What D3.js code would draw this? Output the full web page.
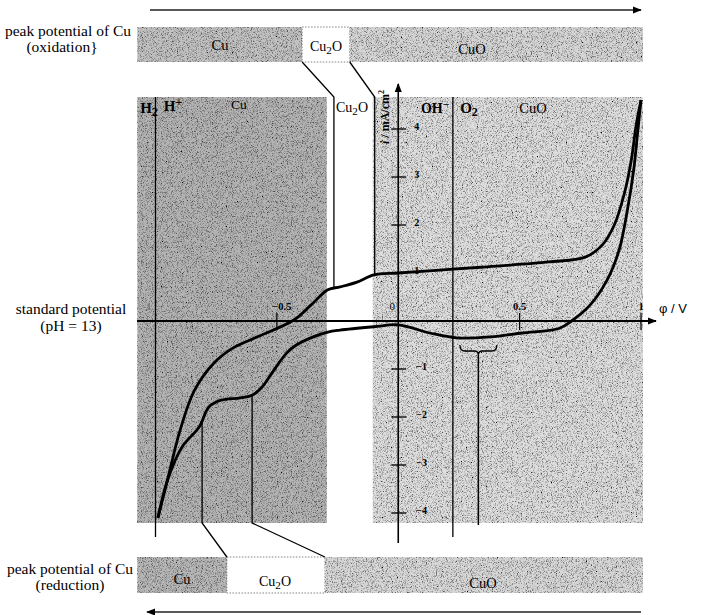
<!DOCTYPE html>
<html>
<head>
<meta charset="utf-8">
<script src="https://cdn.jsdelivr.net/npm/d3@7"></script>
<style>
  body { margin: 0; background: #fff; }
  svg { display: block; font-family: "Liberation Serif", "Times New Roman", serif; }
</style>
</head>
<body>
<div id="chart"></div>
<script>
// cyclic voltammogram of Cu, pH 13
const anodicScan = [
  [-0.99, -4.1], [-0.95, -3.3], [-0.9, -2.3], [-0.84, -1.45], [-0.76, -0.88],
  [-0.68, -0.56], [-0.58, -0.33], [-0.43, 0.02], [-0.36, 0.33], [-0.29, 0.65],
  [-0.24, 0.71], [-0.17, 0.81], [-0.1, 0.96], [0.0, 1.0], [0.17, 1.06],
  [0.34, 1.12], [0.62, 1.23], [0.77, 1.33], [0.84, 1.58], [0.89, 2.0],
  [0.93, 2.63], [0.96, 3.35], [0.98, 4.08], [1.0, 4.6]
];
const cathodicScan = [
  [1.0, 4.6], [0.986, 3.92], [0.97, 3.15], [0.944, 2.31], [0.91, 1.48],
  [0.86, 0.85], [0.79, 0.33], [0.714, 0.0], [0.665, -0.15], [0.51, -0.25],
  [0.38, -0.33], [0.24, -0.35], [0.13, -0.25], [0.0, -0.08], [-0.1, -0.12],
  [-0.24, -0.19], [-0.29, -0.23], [-0.35, -0.33], [-0.42, -0.5], [-0.46, -0.67],
  [-0.52, -1.08], [-0.56, -1.37], [-0.6, -1.54], [-0.65, -1.6], [-0.73, -1.65],
  [-0.78, -1.79], [-0.82, -2.21], [-0.89, -2.62], [-0.95, -3.31], [-0.99, -4.1]
];

// regions of the main plot (V)
const plotRegions = [
  { name: "Cu", from: -1.075, to: -0.294, fill: "#b4b4b4" },
  { name: "Cu2O", from: -0.294, to: -0.105, fill: "#ffffff" },
  { name: "CuO", from: -0.105, to: 1.008, fill: "#dedede" }
];
const oxidationBar = [
  { name: "Cu", from: -1.075, to: -0.396, fill: "#c2c2c2" },
  { name: "Cu2O", from: -0.396, to: -0.2, fill: "#ffffff" },
  { name: "CuO", from: -0.2, to: 1.008, fill: "#d6d6d6" }
];
const reductionBar = [
  { name: "Cu", from: -1.075, to: -0.706, fill: "#b8b8b8" },
  { name: "Cu2O", from: -0.706, to: -0.302, fill: "#ffffff" },
  { name: "CuO", from: -0.302, to: 1.008, fill: "#d8d8d8" }
];
// peak potentials: where the bar boundary is, where the vertical marker sits
const oxidationPeaks = [[-0.396, -0.265], [-0.2, -0.097]];
const reductionPeaks = [[-0.706, -0.808], [-0.302, -0.602]];
const xTicks = [-1, -0.5, 0.5, 1];
const xTickLabels = ["-1", "\u22120.5", "0.5", "1"];
const yTicks = [4, 3, 2, 1, -1, -2, -3, -4];
const equilibria = [-1.0, 0.225];   // H2/H+ and O2/OH- lines
const bracket = [0.254, 0.406];

let WIDTH = 701, HEIGHT = 615;

let svg = d3.select("#chart").append("svg")
  .attr("width", WIDTH)
  .attr("height", HEIGHT);

let x = d3.scaleLinear().domain([-1, 1]).range([155.5, 641]);
let y = d3.scaleLinear().domain([-4, 4]).range([513, 129]);

const plotTop = 97, plotBottom = 523;
const topBar = [27, 62], botBar = [557, 593];

let defs = svg.append("defs");
defs.append("marker").attr("id", "arr")
  .attr("viewBox", "0 0 10 10").attr("refX", 9).attr("refY", 5)
  .attr("markerWidth", 9).attr("markerHeight", 9).attr("orient", "auto-start-reverse")
  .attr("markerUnits", "userSpaceOnUse")
  .append("path").attr("d", "M0,1 L10,5 L0,9 Z").attr("fill", "#000");

// halftone-ish grain: dark specks over the grey fill
let f = defs.append("filter").attr("id", "grain").attr("x", 0).attr("y", 0).attr("width", 1).attr("height", 1);
f.append("feTurbulence").attr("type", "fractalNoise").attr("baseFrequency", 1.2).attr("numOctaves", 1).attr("seed", 3).attr("result", "n");
f.append("feColorMatrix").attr("in", "n").attr("type", "matrix")
  .attr("values", "0 0 0 0 0  0 0 0 0 0  0 0 0 0 0  -3 0 0 0 1.6").attr("result", "a");
f.append("feComposite").attr("in", "a").attr("in2", "SourceGraphic").attr("operator", "in").attr("result", "d");
f.append("feMerge").call(m => {
  m.append("feMergeNode").attr("in", "SourceGraphic");
  m.append("feMergeNode").attr("in", "d");
});

function drawBar(parts, y0, y1) {
  let g = svg.append("g");
  g.selectAll("rect").data(parts).enter().append("rect")
    .attr("x", d => x(d.from)).attr("width", d => x(d.to) - x(d.from))
    .attr("y", y0).attr("height", y1 - y0)
    .attr("fill", d => d.fill)
    .attr("filter", d => d.fill == "#ffffff" ? null : "url(#grain)")
    .attr("stroke", d => d.fill == "#ffffff" ? "#666" : "none")
    .attr("stroke-width", 0.8)
    .attr("stroke-dasharray", "1.5,1.5");
  return g;
}

// main plot regions
svg.append("g").selectAll("rect").data(plotRegions).enter().append("rect")
  .attr("x", d => x(d.from)).attr("width", d => x(d.to) - x(d.from))
  .attr("y", plotTop).attr("height", plotBottom - plotTop)
  .attr("fill", d => d.fill)
  .attr("filter", d => d.fill == "#ffffff" ? null : "url(#grain)");

drawBar(oxidationBar, topBar[0], topBar[1]);
drawBar(reductionBar, botBar[0], botBar[1]);

// direction arrows
svg.append("line").attr("x1", 150).attr("x2", 641).attr("y1", 10).attr("y2", 10)
  .attr("stroke", "#222").attr("stroke-width", 1.6).attr("marker-end", "url(#arr)");
svg.append("line").attr("x1", 641).attr("x2", 147).attr("y1", 612).attr("y2", 612)
  .attr("stroke", "#222").attr("stroke-width", 1.6).attr("marker-end", "url(#arr)");

// equilibrium lines
svg.append("g").selectAll("line").data(equilibria).enter().append("line")
  .attr("x1", d => x(d)).attr("x2", d => x(d))
  .attr("y1", plotTop).attr("y2", 537)
  .attr("stroke", "#000").attr("stroke-width", 1.3);

// axes
svg.append("line").attr("x1", 137).attr("x2", 656).attr("y1", y(0)).attr("y2", y(0))
  .attr("stroke", "#000").attr("stroke-width", 2).attr("marker-end", "url(#arr)");
svg.append("line").attr("x1", x(0)).attr("x2", x(0)).attr("y1", 543).attr("y2", 84)
  .attr("stroke", "#000").attr("stroke-width", 1.6).attr("marker-end", "url(#arr)");

svg.append("g").selectAll("line").data(xTicks).enter().append("line")
  .attr("x1", d => x(d)).attr("x2", d => x(d))
  .attr("y1", y(0) - 8).attr("y2", y(0) + 9)
  .attr("stroke", "#000").attr("stroke-width", 1.2);
svg.append("g").selectAll("text").data(xTicks).enter().append("text")
  .attr("x", d => x(d)).attr("y", 310)
  .attr("text-anchor", (d, i) => i == 0 ? "end" : "middle")
  .attr("dx", (d, i) => i == 0 ? -4 : (i == 1 ? 5 : 0))
  .attr("font-size", 10.5).attr("font-weight", "bold")
  .attr("fill", (d, i) => i == 0 ? "#777" : "#000")
  .text((d, i) => xTickLabels[i]);
svg.append("text").attr("x", x(0) - 6).attr("y", 310).attr("font-size", 11)
  .attr("text-anchor", "middle").text("0");

svg.append("g").selectAll("line").data(yTicks).enter().append("line")
  .attr("x1", x(0) - 7).attr("x2", x(0) + 8)
  .attr("y1", d => y(d)).attr("y2", d => y(d))
  .attr("stroke", "#000").attr("stroke-width", 1.3);
svg.append("g").selectAll("text").data(yTicks).enter().append("text")
  .attr("x", d => d > 0 ? x(0) + 16 : x(0) + 18).attr("y", d => y(d) - 1)
  .attr("dominant-baseline", "middle")
  .attr("font-size", 10).attr("font-weight", "bold")
  .text(d => d > 0 ? d : "\u2212" + (-d));

svg.append("text").attr("x", 659).attr("y", 313)
  .attr("font-family", "Liberation Sans, Arial, sans-serif").attr("font-size", 13)
  .text("\u03c6 / V");

let yl = svg.append("text")
  .attr("transform", "translate(389,117) rotate(-90)")
  .attr("text-anchor", "middle").attr("font-size", 12).attr("font-weight", "bold");
yl.append("tspan").attr("font-style", "italic").text("i");
yl.append("tspan").text(" / mA/cm");
yl.append("tspan").attr("dy", -5).attr("font-size", 8).text("2");

// curves
let line = d3.line().x(d => x(d[0])).y(d => y(d[1])).curve(d3.curveCatmullRom.alpha(0.5));
svg.append("path").datum(anodicScan).attr("d", line)
  .attr("fill", "none").attr("stroke", "#000").attr("stroke-width", 2.8);
svg.append("path").datum(cathodicScan).attr("d", line)
  .attr("fill", "none").attr("stroke", "#000").attr("stroke-width", 2.8);

function currentAt(scan, v) {
  for (let k = 0; k < scan.length - 1; k++) {
    let a = scan[k], b = scan[k + 1];
    if ((v - a[0]) * (v - b[0]) <= 0) {
      return a[1] + (b[1] - a[1]) * (v - a[0]) / (b[0] - a[0]);
    }
  }
  return 0;
}

// oxidation peak markers
oxidationPeaks.forEach(p => {
  svg.append("polyline")
    .attr("points", [[x(p[0]), topBar[1]], [x(p[1]), plotTop], [x(p[1]), y(currentAt(anodicScan, p[1]))]].join(" "))
    .attr("fill", "none").attr("stroke", "#000").attr("stroke-width", 1.3);
});
// reduction peak markers
reductionPeaks.forEach(p => {
  let half = cathodicScan.slice(14);
  svg.append("polyline")
    .attr("points", [[x(p[1]), y(currentAt(half, p[1]))], [x(p[1]), plotBottom], [x(p[0]), botBar[0]]].join(" "))
    .attr("fill", "none").attr("stroke", "#000").attr("stroke-width", 1.3);
});

// bracket under the O2 evolution dip
let bx0 = x(bracket[0]), bx1 = x(bracket[1]), bm = (bx0 + bx1) / 2;
svg.append("path")
  .attr("d", `M${bx0},345 Q${bx0},351 ${bx0 + 5},351 L${bm - 4},351 Q${bm},351 ${bm},355 Q${bm},351 ${bm + 4},351 L${bx1 - 5},351 Q${bx1},351 ${bx1},345`)
  .attr("fill", "none").attr("stroke", "#000").attr("stroke-width", 1.3);
svg.append("line").attr("x1", bm).attr("x2", bm).attr("y1", 355).attr("y2", 525)
  .attr("stroke", "#000").attr("stroke-width", 1.5);

// labels
function chem(sel, parts, size) {
  parts.forEach(p => {
    let t = sel.append("tspan").text(p[0]);
    if (p[1] == "sub") t.attr("dy", 3).attr("font-size", size * 0.8);
    if (p[1] == "sup") t.attr("dy", -5).attr("font-size", size * 0.8);
    if (p[1] == "back") t.attr("dy", p[2]);
  });
}
function label(xp, yp, parts, size, weight, anchor) {
  let t = svg.append("text").attr("x", xp).attr("y", yp)
    .attr("font-size", size).attr("font-weight", weight || "normal")
    .attr("text-anchor", anchor || "middle");
  chem(t, parts, size);
  return t;
}

label(149, 113, [["H"], ["2", "sub"]], 15, "bold");
label(173, 111, [["H"], ["+", "sup"]], 15, "bold");
label(239, 109, [["Cu"]], 13.5);
label(352, 112, [["Cu"], ["2", "sub"], ["O", "back", -3]], 14);
label(435, 113, [["OH"], ["\u2212", "sup"]], 14, "bold");
label(469, 113, [["O"], ["2", "sub"]], 15, "bold");
label(533, 113, [["CuO"]], 14.5);

label(220, 50, [["Cu"]], 14.5);
label(326, 51, [["Cu"], ["2", "sub"], ["O", "back", -3]], 14);
label(472, 54, [["CuO"]], 14.5);

label(182, 584, [["Cu"]], 14.5);
label(275, 586, [["Cu"], ["2", "sub"], ["O", "back", -3]], 14);
label(483, 588, [["CuO"]], 14.5);

label(68, 36, [["peak potential of Cu"]], 15.5);
label(62, 52, [["(oxidation}"]], 15.5);
label(71, 314, [["standard potential"]], 15.5);
label(71, 331, [["(pH = 13)"]], 15.5);
label(70, 574, [["peak potential of Cu"]], 15.5);
label(70, 590, [["(reduction)"]], 15.5);
</script>
</body>
</html>
